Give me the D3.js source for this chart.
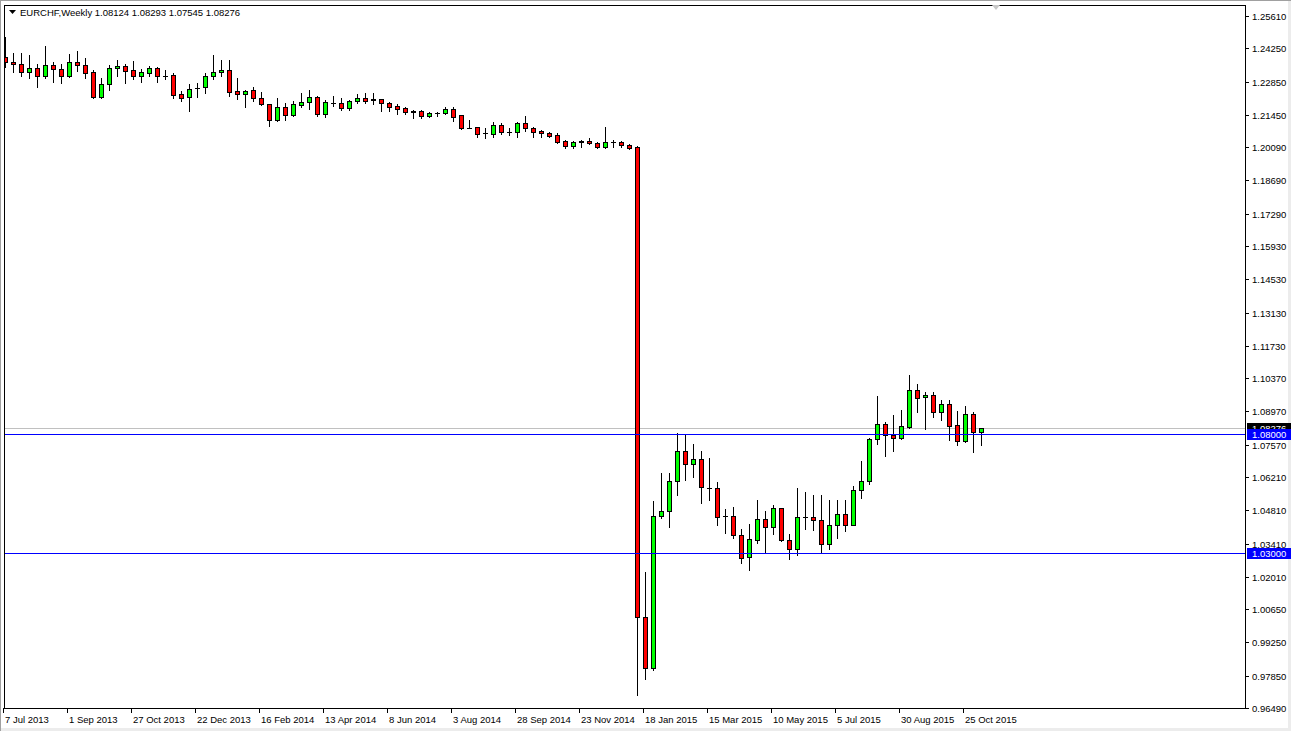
<!DOCTYPE html>
<html><head><meta charset="utf-8">
<script src="https://cdn.jsdelivr.net/npm/d3@7"></script>
<style>
html,body{margin:0;padding:0;background:#fff;overflow:hidden}
svg{display:block}
text{font-family:"Liberation Sans",Arial,sans-serif;font-size:9.5px;fill:#000}
</style>
</head><body>
<svg id="chart" width="1291" height="731"></svg>
<script>
// ---------------- data ----------------
const symbolLabel = "EURCHF,Weekly";
const firstWeek = "2013-07-07";
const open = [1.2388,1.2366,1.2359,1.2327,1.2341,1.2310,1.2355,1.2337,1.2310,1.2366,
1.2355,1.2324,1.2219,1.2274,1.2341,1.2351,1.2332,1.2308,1.2322,1.2341,
1.2310,1.2311,1.2231,1.2219,1.2260,1.2261,1.2308,1.2324,1.2334,1.2245,
1.2231,1.2248,1.2216,1.2189,1.2123,1.2177,1.2143,1.2188,1.2199,1.2221,
1.2147,1.2197,1.2193,1.2172,1.2204,1.2215,1.2210,1.2210,1.2193,1.2182,
1.2172,1.2156,1.2162,1.2141,1.2153,1.2154,1.2168,1.2143,1.2091,1.2092,
1.2067,1.2063,1.2102,1.2071,1.2071,1.2109,1.2088,1.2077,1.2067,1.2060,
1.2035,1.2015,1.2029,1.2035,1.2028,1.2011,1.2029,1.2031,1.2018,1.2011,
1.0030,0.9819,1.0457,1.0476,1.0605,1.0731,1.0674,1.0695,1.0574,1.0573,
1.0456,1.0459,1.0379,1.0285,1.0358,1.0446,1.0409,1.0489,1.0358,1.0316,
1.0451,1.0451,1.0442,1.0338,1.0421,1.0467,1.0421,1.0568,1.0603,1.0779,
1.0842,1.0796,1.0787,1.0832,1.0989,1.0956,1.0965,1.0895,1.0928,1.0839,
1.0773,1.0886,1.08124];
const high = [1.2473,1.2404,1.2404,1.2397,1.2359,1.2435,1.2366,1.2359,1.2401,1.2414,
1.2383,1.2334,1.2299,1.2355,1.2376,1.2359,1.2372,1.2337,1.2351,1.2345,
1.2334,1.2322,1.2247,1.2275,1.2278,1.2320,1.2397,1.2376,1.2376,1.2299,
1.2250,1.2261,1.2242,1.2191,1.2215,1.2196,1.2202,1.2236,1.2250,1.2224,
1.2207,1.2223,1.2215,1.2207,1.2233,1.2236,1.2236,1.2212,1.2198,1.2189,
1.2177,1.2165,1.2165,1.2156,1.2158,1.2177,1.2177,1.2144,1.2123,1.2095,
1.2088,1.2116,1.2109,1.2088,1.2116,1.2141,1.2095,1.2081,1.2071,1.2067,
1.2039,1.2036,1.2039,1.2049,1.2032,1.2095,1.2039,1.2035,1.2022,1.2014,
1.0222,1.0519,1.0640,1.0636,1.0808,1.0797,1.0759,1.0731,1.0699,1.0598,
1.0486,1.0493,1.0401,1.0425,1.0523,1.0478,1.0505,1.0491,1.0383,1.0573,
1.0557,1.0544,1.0544,1.0523,1.0523,1.0523,1.0582,1.0688,1.0786,1.0961,
1.0853,1.0881,1.0902,1.1050,1.1012,1.0979,1.0977,1.0947,1.0947,1.0898,
1.0919,1.0895,1.08293];
const low = [1.2346,1.2327,1.2310,1.2301,1.2263,1.2301,1.2284,1.2278,1.2305,1.2331,
1.2301,1.2215,1.2215,1.2250,1.2310,1.2280,1.2296,1.2282,1.2310,1.2284,
1.2295,1.2215,1.2203,1.2162,1.2221,1.2238,1.2296,1.2310,1.2224,1.2210,
1.2179,1.2203,1.2186,1.2099,1.2119,1.2123,1.2140,1.2177,1.2169,1.2141,
1.2137,1.2183,1.2165,1.2165,1.2193,1.2196,1.2191,1.2161,1.2162,1.2149,
1.2149,1.2130,1.2130,1.2137,1.2141,1.2147,1.2119,1.2085,1.2090,1.2050,
1.2046,1.2053,1.2063,1.2060,1.2053,1.2078,1.2053,1.2053,1.2053,1.2025,
1.2004,1.2007,1.2011,1.2021,1.2004,1.2007,1.2011,1.2011,1.2000,0.9702,
0.9773,0.9811,1.0449,1.0411,1.0547,1.0608,1.0622,1.0512,1.0526,1.0418,
1.0386,1.0366,1.0259,1.0229,1.0344,1.0301,1.0383,1.0352,1.0278,1.0292,
1.0402,1.0397,1.0301,1.0318,1.0366,1.0394,1.0417,1.0531,1.0590,1.0758,
1.0710,1.0731,1.0783,1.0828,1.0895,1.0821,1.0872,1.0860,1.0776,1.0755,
1.0769,1.0727,1.07545];
const close = [1.2367,1.2358,1.2327,1.2341,1.2310,1.2355,1.2337,1.2310,1.2366,1.2353,
1.2322,1.2219,1.2275,1.2341,1.2351,1.2331,1.2308,1.2324,1.2341,1.2308,
1.2310,1.2227,1.2217,1.2255,1.2260,1.2308,1.2324,1.2334,1.2242,1.2231,
1.2247,1.2215,1.2189,1.2123,1.2177,1.2143,1.2189,1.2199,1.2219,1.2147,
1.2198,1.2193,1.2172,1.2204,1.2215,1.2204,1.2206,1.2193,1.2179,1.2171,
1.2156,1.2162,1.2141,1.2151,1.2151,1.2168,1.2137,1.2091,1.2091,1.2063,
1.2067,1.2102,1.2071,1.2071,1.2109,1.2088,1.2074,1.2067,1.2057,1.2032,
1.2015,1.2032,1.2033,1.2025,1.2011,1.2029,1.2029,1.2017,1.2007,1.0030,
0.9819,1.0457,1.0476,1.0605,1.0731,1.0674,1.0695,1.0579,1.0574,1.0453,
1.0456,1.0379,1.0282,1.0362,1.0446,1.0409,1.0489,1.0358,1.0316,1.0451,
1.0451,1.0442,1.0338,1.0421,1.0467,1.0421,1.0568,1.0603,1.0779,1.0842,
1.0796,1.0786,1.0834,1.0989,1.0952,1.0965,1.0895,1.0928,1.0836,1.0773,
1.0886,1.0811,1.08276];
const priceTicks = [1.25610,1.24250,1.22850,1.21450,1.20090,1.18690,1.17290,1.15930,
1.14530,1.13130,1.11730,1.10370,1.08970,1.07570,1.06210,1.04810,1.03410,1.02010,
1.00650,0.99250,0.97850,0.96490];
const dateTickLabels = ["7 Jul 2013","1 Sep 2013","27 Oct 2013","22 Dec 2013","16 Feb 2014",
"13 Apr 2014","8 Jun 2014","3 Aug 2014","28 Sep 2014","23 Nov 2014","18 Jan 2015",
"15 Mar 2015","10 May 2015","5 Jul 2015","30 Aug 2015","25 Oct 2015"];
const levelLines = [1.08000, 1.03000];
const lastBid = 1.08276;

// ---------------- drawing ----------------
const W = 1291, H = 731;
const F = {left: 4, top: 5, right: 1245, bottom: 708};
const svg = d3.select("#chart");
const n = open.length;
const start = d3.timeParse("%Y-%m-%d")(firstWeek);
const dates = d3.range(n).map(i => d3.timeWeek.offset(start, i));
const fmtDate = d3.timeFormat("%-d %b %Y");

const x = d3.scaleLinear().domain([0, n - 1]).range([5, 5 + 8 * (n - 1)]);
const y = d3.scaleLinear().domain([0.9649, 1.2561]).range([708, 16]);
const py = v => Math.round(y(v));

// window border
svg.append("rect").attr("x", 0).attr("y", 0).attr("width", W).attr("height", H).attr("fill", "#fff");
svg.append("rect").attr("x", W - 3).attr("y", 0).attr("width", 3).attr("height", H).attr("fill", "#ececec");
svg.append("rect").attr("x", 0).attr("y", H - 3).attr("width", W).attr("height", 3).attr("fill", "#ececec");
svg.append("line").attr("x1", 0.5).attr("x2", 0.5).attr("y1", 0).attr("y2", H).attr("stroke", "#a0a0a0");
svg.append("line").attr("x1", 0).attr("x2", W).attr("y1", 0.5).attr("y2", 0.5).attr("stroke", "#a0a0a0");

svg.append("clipPath").attr("id", "plot").append("rect")
  .attr("x", F.left + 1).attr("y", F.top + 1)
  .attr("width", F.right - F.left - 1).attr("height", F.bottom - F.top - 1);
const plot = svg.append("g").attr("clip-path", "url(#plot)");

// bid line
plot.append("line").attr("x1", F.left).attr("x2", F.right)
  .attr("y1", py(lastBid) + 0.5).attr("y2", py(lastBid) + 0.5)
  .attr("stroke", "#c0c0c0");

// candles
const bars = d3.range(n).map(i => ({i, o: open[i], h: high[i], l: low[i], c: close[i]}));
const g = plot.append("g");
g.selectAll("line.wick").data(bars).join("line").attr("class", "wick")
  .attr("x1", d => x(d.i) + 0.5).attr("x2", d => x(d.i) + 0.5)
  .attr("y1", d => py(d.h)).attr("y2", d => py(d.l) + 1)
  .attr("stroke", "#000").attr("stroke-width", 1);
bars.forEach(d => {
  const top = py(Math.max(d.o, d.c)), bot = py(Math.min(d.o, d.c));
  const cx = x(d.i);
  if (bot - top < 1) {
    g.append("line").attr("x1", cx - 2).attr("x2", cx + 3)
      .attr("y1", top + 0.5).attr("y2", top + 0.5).attr("stroke", "#000");
  } else {
    g.append("rect").attr("x", cx - 1.5).attr("y", top + 0.5)
      .attr("width", 4).attr("height", bot - top)
      .attr("fill", d.c >= d.o ? "#00ff00" : "#ff0000")
      .attr("stroke", "#000").attr("stroke-width", 1);
  }
});

// horizontal level lines
levelLines.forEach(v => {
  plot.append("line").attr("x1", F.left).attr("x2", F.right)
    .attr("y1", py(v) + 0.5).attr("y2", py(v) + 0.5).attr("stroke", "#0000ff");
});

// frame
svg.append("rect").attr("x", F.left + 0.5).attr("y", F.top + 0.5)
  .attr("width", F.right - F.left).attr("height", F.bottom - F.top)
  .attr("fill", "none").attr("stroke", "#000");

// shift marker
svg.append("polygon").attr("points", "992,5 1000,5 996,10").attr("fill", "#c8c8c8");

// price axis
const pa = svg.append("g");
priceTicks.forEach(v => {
  const yy = py(v);
  pa.append("line").attr("x1", F.right).attr("x2", F.right + 4)
    .attr("y1", yy + 0.5).attr("y2", yy + 0.5).attr("stroke", "#000");
  pa.append("text").attr("x", 1252).attr("y", yy + 0.5).attr("dy", "0.35em")
    .text(v.toFixed(5));
});
// price boxes
function priceBox(v, bg) {
  const yy = py(v);
  pa.append("rect").attr("x", F.right + 2).attr("y", yy - 5).attr("width", W - F.right - 2).attr("height", 11).attr("fill", bg);
  pa.append("text").attr("x", 1252).attr("y", yy + 0.5).attr("dy", "0.35em")
    .style("fill", "#fff").text(v.toFixed(5));
}
priceBox(lastBid, "#000");
levelLines.forEach(v => priceBox(v, "#0000ff"));

// date axis
const da = svg.append("g");
dates.forEach((d, i) => {
  const s = fmtDate(d);
  if (dateTickLabels.includes(s)) {
    const cx = x(i);
    da.append("line").attr("x1", cx - 1.5).attr("x2", cx - 1.5)
      .attr("y1", F.bottom).attr("y2", F.bottom + 5).attr("stroke", "#000");
    da.append("text").attr("x", cx).attr("y", 723).text(s);
  }
});

// header
svg.append("polygon").attr("points", "9,10 16,10 12.5,14").attr("fill", "#000");
svg.append("text").attr("x", 20).attr("y", 16)
  .text(symbolLabel + "  " + [open[n-1], high[n-1], low[n-1], close[n-1]].map(v => v.toFixed(5)).join(" "));
</script>
</body></html>
